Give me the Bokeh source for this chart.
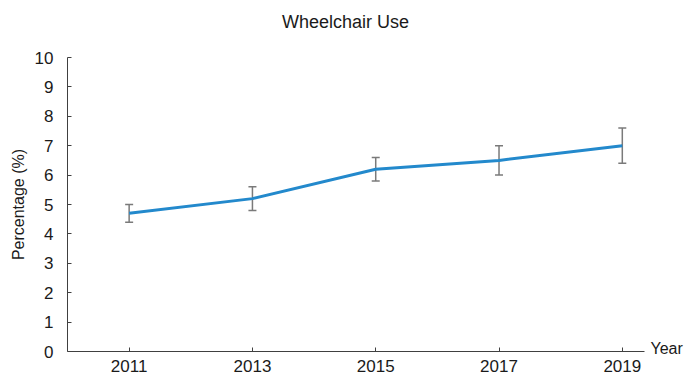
from bokeh.plotting import figure
from bokeh.models import Range1d, FixedTicker, Whisker, ColumnDataSource, Label, TeeHead
from bokeh.embed import file_html
from bokeh.resources import INLINE

# Data
YEARS = [2011, 2013, 2015, 2017, 2019]
PERCENT = [4.7, 5.2, 6.2, 6.5, 7.0]
LOWER = [4.4, 4.8, 5.8, 6.0, 6.4]
UPPER = [5.0, 5.6, 6.6, 7.0, 7.6]
Y_TICKS = list(range(0, 11))
TITLE = "Wheelchair Use"
Y_LABEL = "Percentage (%)"
X_LABEL = "Year"

FONT = "Liberation Sans"
AXIS_COLOR = "#404040"

src = ColumnDataSource(dict(x=YEARS, y=PERCENT, lo=LOWER, hi=UPPER))

p = figure(width=684, height=377, output_backend="svg", toolbar_location=None,
           title=None,
           x_range=Range1d(2010, 2019.36), y_range=Range1d(0, 10),
           min_border_left=67, min_border_right=40, min_border_top=57, min_border_bottom=26)
p.outline_line_color = None
p.grid.visible = False
p.background_fill_color = "white"
p.border_fill_color = "white"

p.line("x", "y", source=src, line_color="#2389cc", line_width=3)

w = Whisker(base="x", lower="lo", upper="hi", source=src,
            line_color="#7a7a7a", line_width=1.5,
            upper_head=TeeHead(size=8, line_color="#7a7a7a", line_width=1.5),
            lower_head=TeeHead(size=8, line_color="#7a7a7a", line_width=1.5))
p.add_layout(w)

# Axes
p.xaxis.ticker = FixedTicker(ticks=YEARS)
p.yaxis.ticker = FixedTicker(ticks=Y_TICKS)
for ax in (p.xaxis[0], p.yaxis[0]):
    ax.axis_line_color = AXIS_COLOR
    ax.major_tick_line_color = AXIS_COLOR
    ax.major_tick_in = 4
    ax.major_tick_out = 0
    ax.minor_tick_line_color = None
    ax.major_label_text_font = FONT
    ax.major_label_text_font_size = "17px"
    ax.major_label_text_color = "#1a1a1a"
p.xaxis.major_label_standoff = 8
p.yaxis.major_label_standoff = 14
p.yaxis.axis_label = Y_LABEL
p.yaxis.axis_label_text_font = FONT
p.yaxis.axis_label_text_font_size = "16px"
p.yaxis.axis_label_text_font_style = "normal"
p.yaxis.axis_label_text_color = "#1a1a1a"
p.yaxis.axis_label_standoff = 5

# Chart title in the top border panel
p.add_layout(Label(x=278, y=36, x_units="screen", y_units="screen", text=TITLE,
                   text_font=FONT, text_font_size="18px", text_color="#1a1a1a",
                   text_align="center", text_baseline="alphabetic"), "above")

# x-axis name to the right of the axis end (placed in the right border panel)
p.add_layout(Label(x=6, y=3, x_units="screen", y_units="screen", text=X_LABEL,
                   text_font=FONT, text_font_size="16px", text_color="#1a1a1a",
                   text_align="left", text_baseline="alphabetic"), "right")

open("out.html", "w").write(file_html(p, INLINE))
